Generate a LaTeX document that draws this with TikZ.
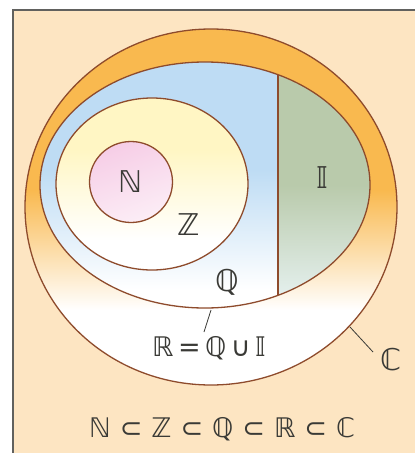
\documentclass[tikz,border=0pt]{standalone}
\usepackage{fontspec}
\newfontfamily\dsfont{DejaVu Sans}
\definecolor{bgpeach}{HTML}{FDE5C2}
\definecolor{corange}{HTML}{F9B94F}
\definecolor{qblue}{HTML}{BEDCF4}
\definecolor{igreen}{HTML}{B9CAAB}
\definecolor{ipale}{HTML}{E6F1F0}
\definecolor{zyellow}{HTML}{FFF6C4}
\definecolor{npink}{HTML}{F6CDE6}
\definecolor{setline}{HTML}{8E4B2C}
\definecolor{inkgray}{HTML}{3A3A36}
\tikzset{
  setedge/.style={draw=setline, line width=1.3pt},
  setlabel/.style={font=\dsfont\fontsize{30}{30}\selectfont, text=inkgray, inner sep=0pt},
  formula/.style={font=\dsfont\fontsize{27}{27}\selectfont, text=inkgray, inner sep=0pt},
  pointer/.style={draw=inkgray, line width=0.8pt}
}
\begin{document}
\begin{tikzpicture}[x=1pt,y=-1pt]
\useasboundingbox (0,0) rectangle (415,453);
% background and frame
\fill[bgpeach] (13,10) rectangle (415,453);
\draw[inkgray!80, line width=1.4pt] (13,453) -- (13,10) -- (415,10);
% C region
\begin{scope}
  \clip (211,207) ellipse [x radius=186, y radius=178];
  \fill[corange] (0,0) rectangle (415,190);
  \shade[top color=corange, bottom color=white] (0,190) rectangle (415,310);
  \fill[white] (0,310) rectangle (415,453);
\end{scope}
% Q and I regions
\begin{scope}
  \clip (205,185) ellipse [x radius=165, y radius=123];
  \begin{scope}
    \clip (0,0) rectangle (278,453);
    \fill[qblue] (0,0) rectangle (278,170);
    \shade[top color=qblue, bottom color=white] (0,170) rectangle (278,290);
    \fill[white] (0,290) rectangle (278,453);
  \end{scope}
  \begin{scope}
    \clip (278,0) rectangle (415,453);
    \fill[igreen] (278,0) rectangle (415,185);
    \shade[top color=igreen, bottom color=ipale] (278,185) rectangle (415,300);
  \end{scope}
\end{scope}
% Z region
\begin{scope}
  \clip (152,184) ellipse [x radius=96, y radius=86];
  \fill[zyellow] (0,0) rectangle (415,150);
  \shade[top color=zyellow, bottom color=white] (0,150) rectangle (415,240);
  \fill[white] (0,240) rectangle (415,453);
\end{scope}
% N region
\shade[top color=npink, bottom color=npink!35, shading angle=20] (131,182) ellipse [x radius=41.5, y radius=40.5];
% outlines
\draw[setedge] (211,207) ellipse [x radius=186, y radius=178];
\draw[setedge] (205,185) ellipse [x radius=165, y radius=123];
\draw[setedge] (152,184) ellipse [x radius=96, y radius=86];
\draw[setedge] (131,182) ellipse [x radius=41.5, y radius=40.5];
\coordinate (dtop) at (278,75.3);
\coordinate (dbot) at (278,294.7);
\draw[setedge] (dtop) -- (dbot);
% labels
\node[setlabel] (nlab) at (131,182) {ℕ};
\node[setlabel] (zlab) at (189,225) {ℤ};
\node[setlabel] (qlab) at (227,282) {ℚ};
\node[setlabel] (ilab) at (322,178) {𝕀};
\node[formula] (rlab) at (209,348) {ℝ\,=\,ℚ\,∪\,𝕀};
\node[setlabel] (clab) at (391,360) {ℂ};
\node[formula] (chain) at (222,429) {ℕ\,\,⊂\,\,ℤ\,\,⊂\,\,ℚ\,\,⊂\,\,ℝ\,\,⊂\,\,ℂ};
% pointers
\coordinate (rtip) at (211,310);
\coordinate (rend) at (204,332);
\draw[pointer] (rtip) -- (rend);
\coordinate (ctip) at (350,327);
\coordinate (cend) at (373,352);
\draw[pointer] (ctip) -- (cend);
\end{tikzpicture}
\end{document}
